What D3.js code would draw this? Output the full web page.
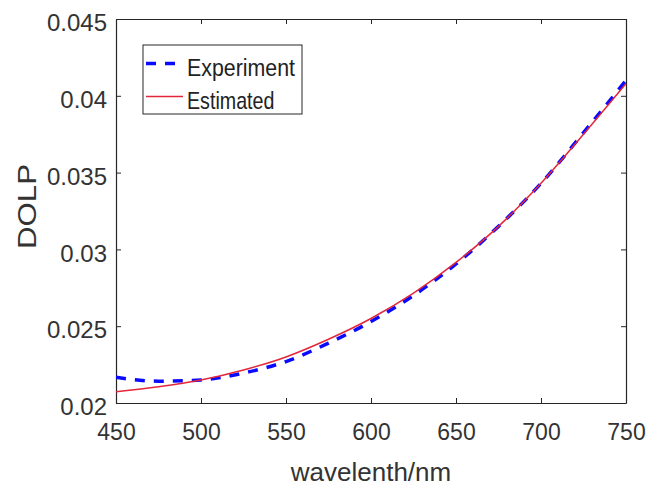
<!DOCTYPE html>
<html>
<head>
<meta charset="utf-8">
<script src="https://cdn.jsdelivr.net/npm/d3@7"></script>
<style>
  body { margin: 0; background: #fff; }
  svg { display: block; font-family: "Liberation Sans", Arial, sans-serif; }
</style>
</head>
<body>
<div id="chart"></div>
<script>
const wavelength = [450, 475, 500, 525, 550, 575, 600, 625, 650, 675, 700, 725, 750];
const experiment = [0.02167, 0.02142, 0.02150, 0.02195, 0.02270, 0.02390, 0.02530, 0.02700, 0.02905, 0.03150, 0.03430, 0.03760, 0.04100];
const estimated = [0.02074, 0.02106, 0.02150, 0.02215, 0.02300, 0.02415, 0.02550, 0.02715, 0.02915, 0.03150, 0.03430, 0.03750, 0.04080];
const xTicks = [450, 500, 550, 600, 650, 700, 750];
const yTicks = [0.02, 0.025, 0.03, 0.035, 0.04, 0.045];

const width = 662, height = 488;
const margin = {top: 19, right: 36, bottom: 85, left: 116};
const innerWidth = width - margin.left - margin.right;
const innerHeight = height - margin.top - margin.bottom;
const axisColor = '#262626';

const svg = d3.select('#chart').append('svg')
    .attr('width', width)
    .attr('height', height);

svg.append('rect').attr('width', width).attr('height', height).attr('fill', '#fff');

const g = svg.append('g')
    .attr('transform', `translate(${margin.left},${margin.top})`);

const xScale = d3.scaleLinear().domain([450, 750]).range([0, innerWidth]);
const yScale = d3.scaleLinear().domain([0.02, 0.045]).range([innerHeight, 0]);

// axes, ticks pointing inward like matlab
const styleAxis = sel => {
    sel.selectAll('.domain').attr('stroke', axisColor).attr('stroke-width', 1.2);
    sel.selectAll('.tick line').attr('stroke', axisColor).attr('stroke-width', 1);
};

const xAxisG = g.append('g')
    .attr('transform', `translate(0,${innerHeight})`)
    .call(d3.axisBottom(xScale).tickValues(xTicks).tickSizeInner(-5).tickSizeOuter(0).tickPadding(21));
xAxisG.call(styleAxis);
xAxisG.selectAll('text').attr('font-size', 23).attr('fill', '#333');

const yAxisG = g.append('g')
    .call(d3.axisLeft(yScale).tickValues(yTicks).tickSizeInner(-5).tickSizeOuter(0).tickPadding(9)
        .tickFormat(d => String(d)));
yAxisG.call(styleAxis);
yAxisG.selectAll('text').attr('font-size', 24).attr('fill', '#333').attr('y', 4);

// box: top and right axes carry ticks only
const topG = g.append('g')
    .call(d3.axisTop(xScale).tickValues(xTicks).tickSizeInner(-5).tickSizeOuter(0));
topG.call(styleAxis);
topG.selectAll('text').remove();

const rightG = g.append('g')
    .attr('transform', `translate(${innerWidth},0)`)
    .call(d3.axisRight(yScale).tickValues(yTicks).tickSizeInner(-5).tickSizeOuter(0));
rightG.call(styleAxis);
rightG.selectAll('text').remove();

// curves
g.append('clipPath').attr('id', 'plot-clip')
    .append('rect').attr('width', innerWidth).attr('height', innerHeight);

const lineGen = series => d3.line()
    .x((d, i) => xScale(wavelength[i]))
    .y(d => yScale(d))
    .curve(d3.curveMonotoneX)(series);

const curves = g.append('g').attr('clip-path', 'url(#plot-clip)');

curves.append('path')
    .attr('d', lineGen(experiment))
    .attr('fill', 'none')
    .attr('stroke', '#0a0aff')
    .attr('stroke-width', 3.5)
    .attr('stroke-dasharray', '10,9');

curves.append('path')
    .attr('d', lineGen(estimated))
    .attr('fill', 'none')
    .attr('stroke', '#e3263a')
    .attr('stroke-width', 1.5);

// axis labels
svg.append('text')
    .attr('x', margin.left + innerWidth / 2)
    .attr('y', 481)
    .attr('text-anchor', 'middle')
    .attr('font-size', 26)
    .attr('fill', '#333')
    .text('wavelenth/nm');

svg.append('text')
    .attr('transform', 'translate(36,206.5) rotate(-90) scale(1.25,1)')
    .attr('text-anchor', 'middle')
    .attr('font-size', 25)
    .attr('fill', '#333')
    .text('DOLP');

// legend
const legend = svg.append('g');
legend.append('rect')
    .attr('x', 143).attr('y', 45)
    .attr('width', 159).attr('height', 69)
    .attr('fill', '#fff')
    .attr('stroke', axisColor)
    .attr('stroke-width', 1);

const legendItems = [
    {name: 'Experiment', color: '#0a0aff', width: 3.5, dash: '10,9', y: 63.5, sx: 0.89},
    {name: 'Estimated', color: '#e3263a', width: 1.5, dash: null, y: 96.5, sx: 0.82}
];

legendItems.forEach(item => {
    legend.append('line')
        .attr('x1', 146).attr('x2', 183)
        .attr('y1', item.y).attr('y2', item.y)
        .attr('stroke', item.color)
        .attr('stroke-width', item.width)
        .attr('stroke-dasharray', item.dash);
    legend.append('text')
        .attr('transform', `translate(187,${item.y + 12}) scale(${item.sx},1)`)
        .attr('font-size', 24)
        .attr('fill', '#222')
        .text(item.name);
});
</script>
</body>
</html>
